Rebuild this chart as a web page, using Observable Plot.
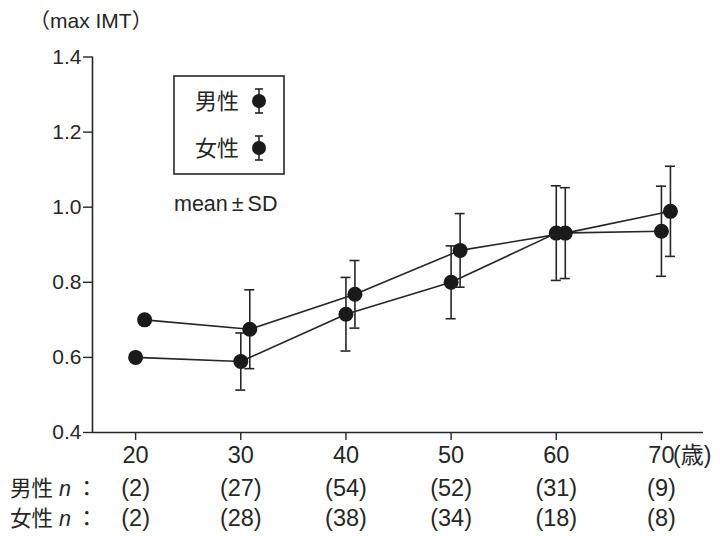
<!DOCTYPE html>
<html><head><meta charset="utf-8">
<script src="https://cdn.jsdelivr.net/npm/d3@7"></script>
<script src="https://cdn.jsdelivr.net/npm/@observablehq/plot@0.6"></script>
<style>
body{margin:0;background:#fff}
#chart{width:720px;height:536px}
</style>
</head><body><div id="chart"></div>
<script>
const ages = [20, 30, 40, 50, 60, 70];
const maleMean = [0.700, 0.675, 0.768, 0.885, 0.931, 0.989];
const maleSD = [null, 0.105, 0.090, 0.098, 0.121, 0.120];
const femaleMean = [0.600, 0.589, 0.715, 0.800, 0.931, 0.936];
const femaleSD = [null, 0.076, 0.098, 0.097, 0.126, 0.120];
const maleN = [2, 27, 54, 52, 31, 9];
const femaleN = [2, 28, 38, 34, 18, 8];
const yTicks = [0.4, 0.6, 0.8, 1.0, 1.2, 1.4];
const sexLabels = ["男性", "女性"];

const FONT = "'Liberation Sans', 'Noto Sans CJK JP', sans-serif";
const INK = "#262626";

const male = ages.map((a, i) => ({age: a, mean: maleMean[i], sd: maleSD[i], n: maleN[i]}));
const female = ages.map((a, i) => ({age: a, mean: femaleMean[i], sd: femaleSD[i], n: femaleN[i]}));

function seriesMarks(data, dx) {
  const withSD = data.filter(d => d.sd != null);
  return [
    Plot.line(data, {x: "age", y: "mean", dx, stroke: INK, strokeWidth: 1.6}),
    Plot.ruleX(withSD, {x: "age", y1: d => d.mean - d.sd, y2: d => d.mean + d.sd, dx, stroke: INK, strokeWidth: 1.6}),
    Plot.ruleY(withSD, {y: d => d.mean + d.sd, x1: "age", x2: "age", dx, insetLeft: -5, insetRight: -5, stroke: INK, strokeWidth: 1.6}),
    Plot.ruleY(withSD, {y: d => d.mean - d.sd, x1: "age", x2: "age", dx, insetLeft: -5, insetRight: -5, stroke: INK, strokeWidth: 1.6}),
    Plot.dot(data, {x: "age", y: "mean", dx, r: 7.5, fill: "#1a1a1a", stroke: "none"})
  ];
}

const xMin = 15.9, xMax = 74.0;

const chart = Plot.plot({
  width: 720,
  height: 536,
  marginLeft: 92,
  marginRight: 17,
  marginTop: 56.5,
  marginBottom: 104,
  style: {fontFamily: FONT, color: INK, background: "#fff", overflow: "visible"},
  x: {domain: [xMin, xMax]},
  y: {domain: [0.4, 1.4]},
  marks: [
    Plot.ruleX([xMin], {stroke: INK, strokeWidth: 1.6}),
    Plot.ruleY([0.4], {stroke: INK, strokeWidth: 1.6}),
    Plot.axisY(yTicks, {tickFormat: d => d.toFixed(1), tickSize: 9, tickPadding: 2, fontSize: 21, label: null, stroke: INK, strokeWidth: 1.4}),
    Plot.axisX(ages, {tickSize: 8, tickPadding: 6, fontSize: 23.5, label: null, stroke: INK, strokeWidth: 1.4}),
    ...seriesMarks(female, 0),
    ...seriesMarks(male, 9),
    Plot.text(male, {x: "age", text: d => `(${d.n})`, frameAnchor: "bottom", lineAnchor: "middle", dy: 56, fontSize: 23.5, fill: INK}),
    Plot.text(female, {x: "age", text: d => `(${d.n})`, frameAnchor: "bottom", lineAnchor: "middle", dy: 86, fontSize: 23.5, fill: INK})
  ]
});

document.getElementById("chart").appendChild(chart);

const svg = d3.select(chart);
function txt(x, y, size) {
  return svg.append("text").attr("x", x).attr("y", y).attr("font-size", size)
    .attr("fill", INK).attr("font-family", FONT).attr("text-anchor", "start");
}
// y label
txt(29, 28, 21).text("（max IMT）");
// age unit
txt(673, 455, 23).attr("dy", "0.35em").text("(歳)");

// n row labels
[[sexLabels[0], 488], [sexLabels[1], 518]].forEach(([lab, y]) => {
  const t = txt(10, y, 21.5).attr("dy", "0.35em");
  t.append("tspan").text(lab + " ");
  t.append("tspan").attr("font-style", "italic").text("n");
  t.append("tspan").attr("dx", 5).text("：");
});

// legend
const lg = svg.append("g");
lg.append("rect").attr("x", 174).attr("y", 76).attr("width", 110).attr("height", 98)
  .attr("fill", "#fff").attr("stroke", INK).attr("stroke-width", 1.6);
[[sexLabels[0], 101], [sexLabels[1], 148]].forEach(([lab, cy]) => {
  lg.append("text").attr("x", 239).attr("y", cy).attr("dy", "0.35em").attr("text-anchor", "end")
    .attr("font-size", 22).attr("fill", INK).attr("font-family", FONT).text(lab);
  lg.append("line").attr("x1", 259).attr("x2", 259).attr("y1", cy - 12).attr("y2", cy + 12).attr("stroke", INK).attr("stroke-width", 1.6);
  lg.append("line").attr("x1", 255).attr("x2", 263).attr("y1", cy - 12).attr("y2", cy - 12).attr("stroke", INK).attr("stroke-width", 1.6);
  lg.append("line").attr("x1", 255).attr("x2", 263).attr("y1", cy + 12).attr("y2", cy + 12).attr("stroke", INK).attr("stroke-width", 1.6);
  lg.append("circle").attr("cx", 259).attr("cy", cy).attr("r", 7).attr("fill", "#1a1a1a");
});
const ms = txt(174, 211, 21.5);
ms.append("tspan").text("mean");
ms.append("tspan").attr("dx", 4).text("±");
ms.append("tspan").attr("dx", 4).text("SD");
</script>
</body></html>
